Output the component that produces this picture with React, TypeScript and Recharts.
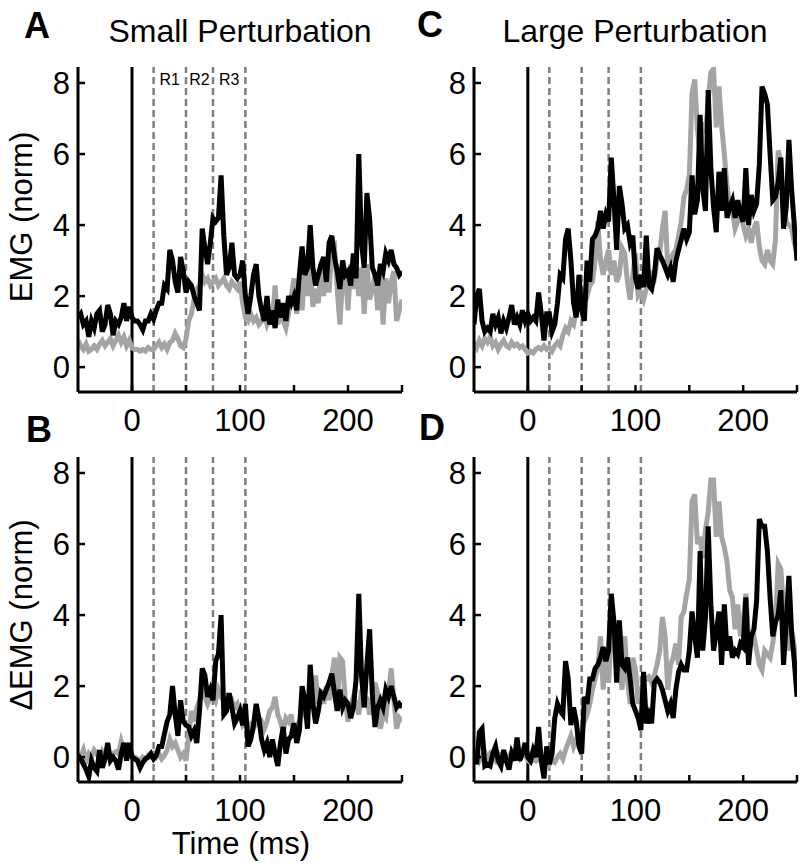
import { LineChart, Line, XAxis, YAxis, ReferenceLine, ReferenceArea } from 'recharts';

// time axis (ms), 2.5 ms steps
const timeMs = [
  -50, -47.5, -45, -42.5, -40, -37.5, -35, -32.5, -30, -27.5,
  -25, -22.5, -20, -17.5, -15, -12.5, -10, -7.5, -5, -2.5,
  0, 2.5, 5, 7.5, 10, 12.5, 15, 17.5, 20, 22.5,
  25, 27.5, 30, 32.5, 35, 37.5, 40, 42.5, 45, 47.5,
  50, 52.5, 55, 57.5, 60, 62.5, 65, 67.5, 70, 72.5,
  75, 77.5, 80, 82.5, 85, 87.5, 90, 92.5, 95, 97.5,
  100, 102.5, 105, 107.5, 110, 112.5, 115, 117.5, 120, 122.5,
  125, 127.5, 130, 132.5, 135, 137.5, 140, 142.5, 145, 147.5,
  150, 152.5, 155, 157.5, 160, 162.5, 165, 167.5, 170, 172.5,
  175, 177.5, 180, 182.5, 185, 187.5, 190, 192.5, 195, 197.5,
  200, 202.5, 205, 207.5, 210, 212.5, 215, 217.5, 220, 222.5,
  225, 227.5, 230, 232.5, 235, 237.5, 240, 242.5, 245, 247.5,
  250,
];

// A - small perturbation, EMG
const emgSmallBlack = [
  1.4, 1.5, 1.2, 1.3, 0.85, 1.3, 1.1, 1.5, 1.6, 1.0,
  1.2, 1.75, 1.5, 0.9, 1.3, 1.2, 1.4, 1.8, 1.3, 1.7,
  1.4, 1.3, 1.3, 1.2, 1.05, 1.3, 1.3, 1.5, 1.35, 1.6,
  1.8, 1.8, 2.3, 2.2, 3.3, 3.0, 2.4, 2.1, 3.1, 2.7,
  2.1, 2.4, 2.3, 2.0, 1.8, 1.6, 3.9, 3.35, 2.9, 3.5,
  4.2, 4.1, 4.2, 5.4, 3.7, 2.6, 2.8, 3.5, 2.6, 2.5,
  2.6, 3.0, 2.0, 1.5, 2.0, 2.6, 2.9, 2.0, 1.6, 1.3,
  2.0, 1.2, 1.6, 1.1, 1.9, 1.4, 1.8, 1.3, 2.0, 1.8,
  2.0, 1.6, 2.6, 3.4, 2.6, 2.8, 4.0, 2.8, 2.3, 2.6,
  2.9, 3.1, 2.4, 3.5, 3.7, 3.1, 2.7, 2.2, 3.0, 2.6,
  2.7, 2.3, 3.2, 2.5, 6.0, 3.5, 2.8, 4.9, 4.2, 2.8,
  2.6, 2.3, 2.9, 2.7, 3.2, 3.0, 3.3, 2.9, 2.8, 2.6,
  2.7,
];
const emgSmallGray = [
  0.75, 0.6, 0.5, 0.65, 0.45, 0.5, 0.6, 0.5, 0.65, 0.75,
  0.6, 0.7, 0.8, 0.6, 0.75, 0.9, 0.7, 0.85, 0.6, 0.75,
  0.55, 0.5, 0.5, 0.45, 0.5, 0.45, 0.55, 0.5, 0.5, 0.6,
  0.7, 0.55, 0.65, 0.5, 0.7, 0.75, 0.95, 0.8, 0.6, 0.55,
  0.8, 1.3, 1.5, 1.9, 2.2, 2.3, 2.6, 2.4, 2.5, 2.3,
  2.4, 2.5, 2.3, 2.4, 2.5, 2.3, 2.2, 2.4, 2.3, 2.2,
  2.4, 1.8, 1.4, 1.3, 1.5, 1.3, 1.4, 1.2, 1.3, 1.5,
  1.2, 1.4, 1.3, 2.3, 1.2, 1.6, 1.3, 1.1, 1.5, 2.0,
  2.5, 1.5, 2.3, 1.6, 2.8, 2.0, 2.9, 1.7, 2.2, 1.8,
  2.9, 2.0, 3.0, 2.1, 3.3, 3.4, 2.2, 1.2, 2.5, 2.7,
  1.6, 2.9, 2.2, 2.8, 2.0, 2.8, 1.5, 2.9, 1.9, 2.2,
  2.6, 1.6, 2.8, 1.2, 2.5, 1.8, 2.4, 2.7, 1.3, 1.6,
  1.9,
];

// C - large perturbation, EMG
const emgLargeBlack = [
  1.2, 2.0, 2.2, 1.3, 1.0, 1.1, 1.0, 1.5, 1.2, 1.4,
  0.95, 1.3, 1.1, 1.4, 1.75, 1.2, 1.4, 1.2, 1.6, 1.3,
  1.5, 1.3, 1.4, 1.3, 2.1, 1.5, 0.75, 1.5, 1.5, 1.0,
  1.2, 1.8, 2.6, 2.5, 3.6, 3.9, 3.0, 1.8, 1.4, 2.6,
  1.6, 1.3, 3.0, 2.4, 3.6, 3.7, 3.9, 4.4, 3.9, 4.3,
  4.1, 5.9, 4.7, 3.3, 5.1, 4.6, 3.9, 4.0, 3.5, 3.7,
  2.5, 2.2, 2.6, 2.25, 3.7, 2.3, 2.2, 2.6, 3.35, 3.15,
  3.0, 2.8, 2.6, 2.8, 2.4, 3.0, 3.3, 3.6, 3.9, 3.6,
  3.8, 5.4, 4.3, 4.7, 7.1, 5.0, 4.4, 7.8, 5.6, 4.5,
  3.8, 5.5, 4.4, 5.6, 4.2, 4.5, 4.7, 4.2, 4.7, 4.3,
  4.1, 5.6, 4.0, 4.85, 4.4, 4.6, 5.7, 7.9, 7.7, 7.4,
  6.0, 4.7, 4.8, 5.2, 5.9, 3.9, 4.5, 6.4, 5.0, 4.0,
  3.0,
];
const emgLargeGray = [
  0.7, 0.55, 0.75, 0.6, 0.8, 0.7, 0.85, 0.6, 0.7, 0.5,
  0.65, 0.75, 0.6, 0.55, 0.7, 0.6, 0.65, 0.55, 0.6, 0.5,
  0.4, 0.45, 0.4, 0.5, 0.55, 0.5, 0.6, 0.5, 0.55, 0.45,
  0.6, 0.7, 0.6, 0.9, 1.1, 1.0, 1.3, 1.2, 1.6, 2.0,
  1.85, 2.1, 2.0, 2.3, 2.4, 3.0, 4.1, 3.0, 2.6, 3.0,
  3.3, 2.6, 3.0, 2.4, 2.6, 3.35, 3.2, 2.4, 1.9, 2.6,
  3.2, 2.0, 2.1, 1.9, 2.2, 2.4, 2.6, 2.5, 3.0, 3.2,
  3.9, 4.4, 2.8, 3.0, 3.2, 3.3, 3.7, 4.1, 4.8, 5.0,
  5.4, 7.7, 8.1, 6.7, 6.0, 6.9, 6.6, 7.5, 8.3, 8.4,
  6.75, 7.9, 6.8, 6.0, 5.1, 4.6, 4.4, 3.9, 4.1, 4.4,
  4.0, 3.7, 3.9, 3.5, 3.9, 4.1, 3.4, 3.0, 2.9, 3.3,
  3.0, 2.9, 3.6, 6.1, 5.8, 4.7, 4.1, 4.0, 3.9, 3.5,
  3.2,
];

// B - small perturbation, delta EMG
const dEmgSmallBlack = [
  0.05, -0.05, -0.2, -0.35, -0.55, -0.1, -0.3, -0.4, 0.2, -0.3,
  -0.05, 0.4, -0.1, 0.0, -0.1, -0.35, 0.1, 0.4, -0.1, 0.4,
  0.0, -0.05, -0.1, -0.3, -0.15, -0.05, 0.0, 0.1, -0.05, 0.05,
  0.3, 0.3, 0.65, 1.0, 1.2, 2.0, 1.2, 0.6, 1.6, 1.0,
  0.9, 0.85, 0.6, 0.75, 0.4, 1.3, 2.5, 2.3, 1.7, 1.9,
  1.6, 2.7, 2.9, 4.0, 1.2, 1.3, 1.8, 1.4, 0.95, 1.1,
  1.3, 0.9, 1.5, 0.3, 0.5, 0.9, 1.5, 1.1, 0.5, 0.2,
  0.4, 0.0, 0.5, 0.1, -0.25, 0.4, 0.85, 0.1, 0.5, 0.6,
  0.95, 0.4, 0.75, 2.0, 1.6, 0.8, 2.6, 1.5, 0.95, 1.3,
  1.8, 1.7, 1.9, 2.1, 2.35, 1.8, 1.3, 1.9, 1.4, 1.6,
  1.5, 1.1, 1.4, 2.2, 4.6, 2.3, 1.4, 2.6, 3.6, 1.8,
  0.85, 1.4, 1.6, 1.4, 1.9, 1.7, 2.0, 1.7, 1.4, 1.5,
  1.4,
];
const dEmgSmallGray = [
  0.1, 0.0, 0.2, -0.1, 0.1, 0.0, 0.2, 0.1, -0.1, 0.15,
  0.0, 0.2, 0.05, 0.1, 0.15, 0.1, 0.45, 0.2, 0.3, 0.1,
  0.05, 0.0, -0.05, -0.1, 0.0, -0.05, 0.05, 0.0, 0.1, 0.0,
  0.1, -0.05, 0.05, 0.2, 0.5, 0.3, 0.4, 0.2, 0.0, 0.1,
  -0.1, 0.6, 1.3, 1.0, 1.4, 1.6, 1.9, 1.7, 1.5, 1.7,
  1.8, 1.6, 1.9, 1.7, 1.6, 1.7, 1.5, 1.6, 1.4, 1.5,
  1.2, 0.9, 1.0, 0.7, 0.9, 0.8, 1.0, 0.9, 1.0, 0.8,
  1.0, 1.3, 1.4, 1.7, 1.2, 1.0, 0.7, 1.1, 1.0, 1.2,
  0.6, 0.9, 1.0, 1.2, 1.5, 1.3, 1.8, 1.4, 2.3, 1.5,
  1.9, 1.5, 2.0, 1.6, 2.3, 2.8, 1.3, 2.8, 2.7, 1.6,
  1.0, 1.4, 1.7, 1.5, 1.2, 1.9, 1.4, 1.7, 1.2, 1.6,
  2.1, 1.8, 0.8, 1.2, 1.1, 1.8, 2.5, 1.6, 0.8, 1.1,
  1.0,
];

// D - large perturbation, delta EMG
const dEmgLargeBlack = [
  0.1, -0.2, 0.7, 0.8, -0.25, -0.2, -0.25, 0.1, 0.3, -0.1,
  -0.25, 0.2, -0.1, -0.35, 0.1, -0.1, 0.55, -0.1, 0.1, 0.4,
  0.0, -0.1, 0.2, 0.0, 0.85, -0.1, -0.6, 0.3, -0.2, 0.1,
  1.1, 1.5, 1.3, 1.2, 2.7, 2.2, 0.9, 1.4, 1.0, 0.3,
  0.1, 1.7, 1.5, 2.2, 2.2, 2.5, 2.6, 2.8, 3.1, 2.7,
  3.0, 4.6, 3.8, 2.1, 3.85, 2.6, 2.5, 2.8, 2.2, 1.5,
  1.3, 1.1, 0.76, 2.4, 0.95, 1.2, 0.95, 2.1, 2.2, 2.1,
  1.9, 1.6, 1.3, 1.5, 1.1, 1.9, 2.4, 2.6, 2.45, 2.45,
  3.0, 4.1, 3.4, 2.8, 5.8, 3.0, 3.95, 6.5, 4.3, 3.0,
  3.5, 4.1, 2.6, 4.3, 3.0, 3.4, 2.8, 3.0, 2.9, 3.2,
  3.1, 4.5, 2.6, 3.4, 3.6, 4.4, 6.7, 6.5, 6.5, 5.8,
  4.5, 3.4, 3.8, 4.0, 4.7, 2.6, 3.8, 5.1, 3.5, 2.7,
  1.7,
];
const dEmgLargeGray = [
  0.0, 0.1, -0.1, 0.05, 0.15, -0.05, 0.1, 0.0, -0.1, 0.1,
  0.0, 0.1, -0.05, 0.05, 0.15, 0.0, 0.1, -0.05, 0.05, 0.1,
  -0.1, -0.15, -0.05, -0.1, 0.0, -0.15, -0.05, -0.1, -0.2, -0.1,
  -0.15, 0.0, 0.1, -0.05, 0.2, 0.4, 0.6, 0.3, 0.5, 0.7,
  0.7, 1.0, 1.2, 1.5, 1.9, 2.2, 2.5, 3.4, 1.9, 3.0,
  2.1, 3.4, 3.6, 3.1, 2.7, 1.9, 3.4, 2.2, 1.5, 2.8,
  2.45, 1.5, 1.9, 2.1, 2.2, 2.26, 2.1, 2.3, 2.6, 3.0,
  3.95, 3.4, 1.9, 2.6, 2.8, 3.2, 2.6, 3.95, 4.1, 4.6,
  5.0, 7.2, 7.4, 6.0, 6.2, 5.6, 6.4, 6.9, 7.8, 7.8,
  6.2, 7.2, 6.2, 5.9, 5.5, 4.7, 4.5, 3.6, 4.3, 3.4,
  3.8, 4.6, 3.4, 3.2, 3.4, 3.0, 2.6, 2.45, 3.0, 2.9,
  2.8, 3.2, 3.8, 5.45, 5.3, 4.2, 3.8, 3.0, 3.6, 3.1,
  2.55,
];

const yTicks = [0, 2, 4, 6, 8];
const xTicks = [0, 50, 100, 150, 200, 250];
const xTickLabels = [0, 100, 200];
const windowEdges = [20, 50, 75, 105];
const windowNames = ['R1', 'R2', 'R3'];

const FONT = '"Liberation Sans", Arial, Helvetica, sans-serif';

const YTick = (props: any) => {
  const { x, y, payload } = props;
  return (
    <g>
      <line x1={x} x2={x + 7} y1={y} y2={y} stroke="#000" strokeWidth={2.5} />
      <text x={x - 8} y={y + 11} textAnchor="end" fontSize={31} fontFamily={FONT} fill="#000">
        {payload.value}
      </text>
    </g>
  );
};

const XTick = (props: any) => {
  const { x, y, payload } = props;
  return (
    <g>
      <line x1={x} x2={x} y1={y} y2={y - 7} stroke="#000" strokeWidth={2.5} />
      {xTickLabels.includes(payload.value) && (
        <text x={x} y={y + 39} textAnchor="middle" fontSize={31} fontFamily={FONT} fill="#000">
          {payload.value}
        </text>
      )}
    </g>
  );
};

type PanelProps = {
  black: number[];
  gray: number[];
  width: number;
  right: number;
  showWindows?: boolean;
};

// plot area: 67px from the top, 325px tall; x axis band below it
const Panel = ({ black, gray, width, right, showWindows }: PanelProps) => {
  const data = timeMs.map((t, i) => ({ t, black: black[i], gray: gray[i] }));
  return (
    <LineChart width={width} height={452} data={data} margin={{ top: 67, right, bottom: 0, left: 18 }}>
      <XAxis
        dataKey="t"
        type="number"
        domain={[-50, 250]}
        ticks={xTicks}
        interval={0}
        tick={<XTick />}
        tickLine={false}
        tickSize={0}
        tickMargin={0}
        height={60}
        allowDataOverflow
        axisLine={{ stroke: '#000', strokeWidth: 3 }}
      />
      <YAxis
        type="number"
        domain={[-0.7, 8.45]}
        ticks={yTicks}
        interval={0}
        tick={<YTick />}
        tickLine={false}
        tickSize={0}
        tickMargin={0}
        width={60}
        allowDataOverflow
        axisLine={{ stroke: '#000', strokeWidth: 3 }}
      />
      {windowEdges.map((w) => (
        <ReferenceLine key={w} x={w} stroke="#7f7f7f" strokeWidth={2.5} strokeDasharray="7 4" />
      ))}
      {showWindows &&
        windowNames.map((name, i) => (
          <ReferenceArea
            key={name}
            x1={windowEdges[i]}
            x2={windowEdges[i + 1]}
            fill="none"
            fillOpacity={0}
            strokeOpacity={0}
            label={{ value: name, position: 'insideTop', offset: 7, fontSize: 16, fill: '#000', fontFamily: FONT }}
          />
        ))}
      <ReferenceLine x={0} stroke="#000" strokeWidth={3} />
      <Line type="linear" dataKey="gray" stroke="#a4a4a4" strokeWidth={5} dot={false} isAnimationActive={false} />
      <Line type="linear" dataKey="black" stroke="#000" strokeWidth={5} dot={false} isAnimationActive={false} />
    </LineChart>
  );
};

const App = () => {
  return (
    <div style={{ position: 'relative', width: 801, height: 868, background: '#fff', fontFamily: FONT }}>
      <style>{'body{margin:0}'}</style>
      <div style={{ position: 'absolute', left: 0, top: 0 }}>
        <Panel black={emgSmallBlack} gray={emgSmallGray} width={410} right={8} showWindows />
      </div>
      <div style={{ position: 'absolute', left: 396, top: 0 }}>
        <Panel black={emgLargeBlack} gray={emgLargeGray} width={405} right={4} />
      </div>
      <div style={{ position: 'absolute', left: 0, top: 390 }}>
        <Panel black={dEmgSmallBlack} gray={dEmgSmallGray} width={410} right={8} />
      </div>
      <div style={{ position: 'absolute', left: 396, top: 390 }}>
        <Panel black={dEmgLargeBlack} gray={dEmgLargeGray} width={405} right={4} />
      </div>
      <svg width={801} height={868} style={{ position: 'absolute', left: 0, top: 0, pointerEvents: 'none' }}>
        <g fontFamily={FONT} fill="#000">
          <text x={24} y={38} fontSize={36} fontWeight="bold">A</text>
          <text x={417} y={37} fontSize={36} fontWeight="bold">C</text>
          <text x={26} y={442} fontSize={36} fontWeight="bold">B</text>
          <text x={419} y={440} fontSize={36} fontWeight="bold">D</text>
          <text x={240} y={42} fontSize={32} textAnchor="middle">Small Perturbation</text>
          <text x={635} y={42} fontSize={32} textAnchor="middle">Large Perturbation</text>
          <text x={32} y={217} fontSize={31} textAnchor="middle" transform="rotate(-90 32 217)">EMG (norm)</text>
          <text x={32} y={615} fontSize={31} textAnchor="middle" transform="rotate(-90 32 615)">ΔEMG (norm)</text>
          <text x={241} y={854} fontSize={31} textAnchor="middle">Time (ms)</text>
        </g>
      </svg>
    </div>
  );
};

export default App;
